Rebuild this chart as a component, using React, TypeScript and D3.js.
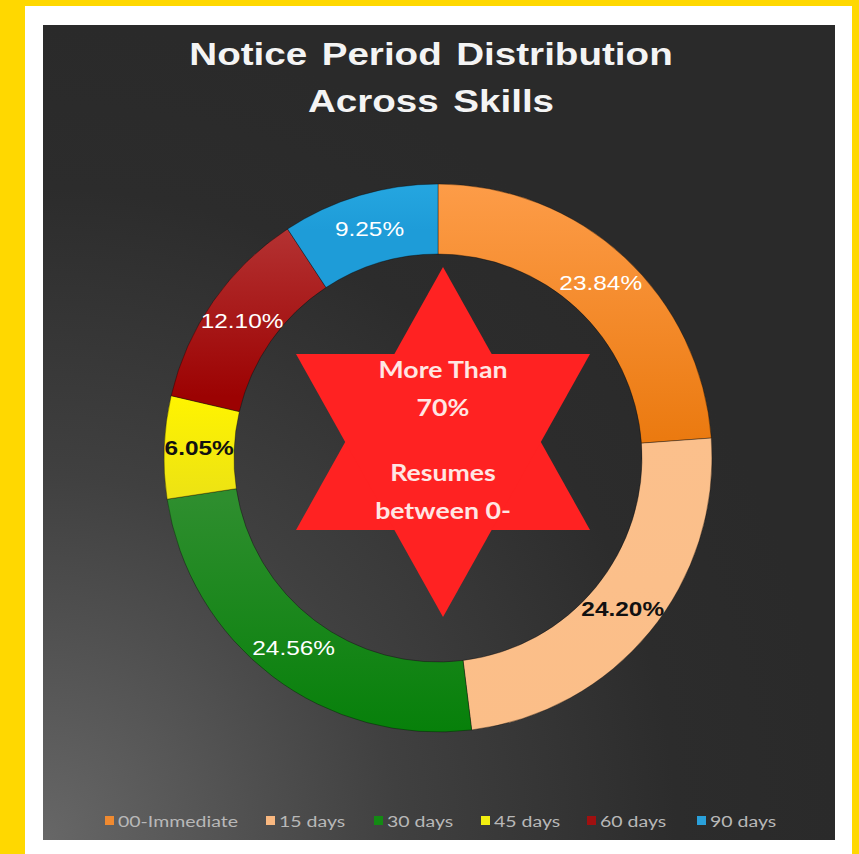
import React from "react";
import * as d3 from "d3";

// ---- data ----
const categories = ["00-Immediate", "15 days", "30 days", "45 days", "60 days", "90 days"];
const values = [23.84, 24.2, 24.56, 6.05, 12.1, 9.25];
const valueLabels = ["23.84%", "24.20%", "24.56%", "6.05%", "12.10%", "9.25%"];
const titleLines = ["Notice Period Distribution", "Across Skills"];
const starLines = ["More Than", "70%", "", "Resumes", "between 0-"];

// ---- styles ----
const sliceColors = [
  ["#FD9C48", "#EB7A10"],
  ["#FBC08C", "#FBBE88"],
  ["#2E8E2E", "#07800A"],
  ["#FFF400", "#ECE214"],
  ["#B43232", "#9C0202"],
  ["#25A6E0", "#1E9CD8"],
];
const legendColors = ["#F08A30", "#F9B880", "#148A14", "#F2EE10", "#A01010", "#2AA0DA"];
const labelColors = ["#FFFFFF", "#111111", "#FFFFFF", "#111111", "#FFFFFF", "#FFFFFF"];
const labelWeights = ["normal", "bold", "normal", "bold", "normal", "normal"];
const legendX = [105, 266, 374, 481, 587, 697];

const W = 859;
const H = 854;
const cx = 438;
const cy = 458;
const rOuter = 274;
const rInner = 204;
const rLabel = 239;
const stretch = 1.22;

export default function App() {
  const pie = d3.pie<number>().sort(null).value((d) => d)(values);
  const arc = d3.arc<d3.PieArcDatum<number>>().innerRadius(rInner).outerRadius(rOuter);
  const labelArc = d3.arc<d3.PieArcDatum<number>>().innerRadius(rLabel).outerRadius(rLabel);

  // star (hexagram) geometry
  const sx = 443, sy = 442, sHalfW = 147, sTop = 175, sBase = 88;
  const up = [[sx, sy - sTop], [sx - sHalfW, sy + sBase], [sx + sHalfW, sy + sBase]];
  const down = [[sx, sy + sTop], [sx - sHalfW, sy - sBase], [sx + sHalfW, sy - sBase]];
  const pts = (p: number[][]) => p.map((q) => q.join(",")).join(" ");

  const starY = [369, 407, 440, 472, 510];

  return (
    <svg
      width={W}
      height={H}
      style={{ position: "absolute", left: 0, top: 0, display: "block" }}
      xmlns="http://www.w3.org/2000/svg"
    >
      <defs>
        <radialGradient id="bg" cx="0%" cy="100%" r="100%" fx="0%" fy="100%">
          <stop offset="0%" stopColor="#676767" />
          <stop offset="45%" stopColor="#404040" />
          <stop offset="80%" stopColor="#2c2c2c" />
          <stop offset="100%" stopColor="#2a2a2a" />
        </radialGradient>
        {sliceColors.map((c, i) => {
          const [a0, a1] = [pie[i].startAngle, pie[i].endAngle];
          const ys = [a0, a1].map((a) => cy - rOuter * Math.cos(a));
          const y1 = Math.min(...ys, cy - rOuter * Math.cos((a0 + a1) / 2));
          const y2 = Math.max(...ys, cy - rOuter * Math.cos((a0 + a1) / 2));
          return (
            <linearGradient
              key={i}
              id={`g${i}`}
              gradientUnits="userSpaceOnUse"
              x1={0}
              x2={0}
              y1={y1 - cy}
              y2={y2 - cy + 1}
            >
              <stop offset="0%" stopColor={c[0]} />
              <stop offset="100%" stopColor={c[1]} />
            </linearGradient>
          );
        })}
      </defs>
      <rect x={0} y={0} width={W} height={H} fill="#FFD800" />
      <rect x={25} y={6} width={827} height={H} fill="#FFFFFF" />
      <rect x={43} y={25} width={792} height={815} fill="url(#bg)" />

      {titleLines.map((t, i) => (
        <text
          key={i}
          transform={`translate(431,${65 + i * 47}) scale(${stretch + 0.025},1)`}
          textAnchor="middle"
          fontFamily="'Liberation Sans', Arial, sans-serif"
          fontWeight="bold"
          fontSize={31}
          fill="#F4F4F4"
          wordSpacing={3}
        >
          {t}
        </text>
      ))}

      <g transform={`translate(${cx},${cy})`}>
        {pie.map((p, i) => (
          <path
            key={i}
            d={arc(p) || ""}
            fill={`url(#g${i})`}
            stroke="rgba(0,0,0,0.35)"
            strokeWidth={1}
          />
        ))}
        {pie.map((p, i) => {
          const [x, y] = labelArc.centroid(p);
          return (
            <text
              key={i}
              transform={`translate(${x},${y}) scale(${stretch},1)`}
              textAnchor="middle"
              dominantBaseline="central"
              fontFamily="'Liberation Sans', Arial, sans-serif"
              fontWeight={labelWeights[i]}
              fontSize={20}
              fill={labelColors[i]}
            >
              {valueLabels[i]}
            </text>
          );
        })}
      </g>

      <polygon points={pts(up)} fill="#FF2222" />
      <polygon points={pts(down)} fill="#FF2222" />
      {starLines.map((t, i) =>
        t ? (
          <text
            key={i}
            transform={`translate(${sx},${starY[i]}) scale(1.16,1)`}
            textAnchor="middle"
            dominantBaseline="central"
            fontFamily="Lato, 'Noto Sans', sans-serif"
            fontWeight="bold"
            fontSize={23}
            fill="#FFE6E3"
          >
            {t}
          </text>
        ) : null
      )}

      {categories.map((c, i) => (
        <g key={i}>
          <rect x={legendX[i]} y={816} width={9} height={9} fill={legendColors[i]} />
          <text
            transform={`translate(${legendX[i] + 13},${821}) scale(${stretch},1)`}
            dominantBaseline="central"
            fontFamily="Lato, 'Noto Sans', sans-serif"
            fontSize={16}
            fill="#B8B8B8"
          >
            {c}
          </text>
        </g>
      ))}
    </svg>
  );
}
